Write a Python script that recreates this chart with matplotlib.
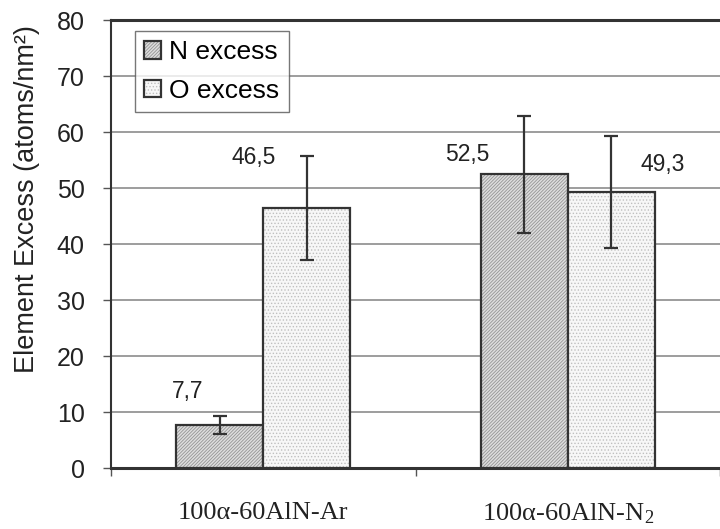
import matplotlib
matplotlib.use("Agg")
import matplotlib.pyplot as plt
import numpy as np

plt.rcParams['font.family'] = ['Liberation Sans', 'DejaVu Sans']
plt.rcParams['mathtext.fontset'] = 'custom'
plt.rcParams['mathtext.rm'] = 'Liberation Serif'
plt.rcParams['mathtext.it'] = 'Liberation Serif'
plt.rcParams['hatch.linewidth'] = 0.6

# Data
categories = ["100α-60AlN-Ar", r"100α-60AlN-N$_\mathregular{2}$"]
n_excess = [7.7, 52.5]
o_excess = [46.5, 49.3]
n_err = [1.6, 10.4]
o_err = [9.3, 10.0]
value_labels_n = ["7,7", "52,5"]
value_labels_o = ["46,5", "49,3"]
yticks = [0, 10, 20, 30, 40, 50, 60, 70, 80]

W, H = 720, 529
fig = plt.figure(figsize=(W / 100, H / 100), dpi=100)
ax = fig.add_axes([111 / W, 1 - 468.3 / H, (720 - 111) / W, (468.3 - 20.3) / H])

x = np.arange(len(categories))
bw = 0.285
edge = '#333333'

bars_n = ax.bar(x - bw / 2, n_excess, bw, facecolor='#dedede', edgecolor=edge,
                linewidth=1.6, hatch='//////////', zorder=3, label='N excess')
for b in bars_n:
    b._hatch_color = (0.58, 0.58, 0.58, 1)
bars_o = ax.bar(x + bw / 2, o_excess, bw, facecolor='#f7f7f7', edgecolor=edge,
                linewidth=1.6, hatch='.....', zorder=3, label='O excess')
for b in bars_o:
    b._hatch_color = (0.75, 0.75, 0.75, 1)

ax.errorbar(x - bw / 2, n_excess, yerr=n_err, fmt='none', ecolor=edge,
            elinewidth=1.6, capsize=5, capthick=1.6, zorder=4)
ax.errorbar(x + bw / 2, o_excess, yerr=o_err, fmt='none', ecolor=edge,
            elinewidth=1.6, capsize=5, capthick=1.6, zorder=4)

# Value labels (offsets in points from the top of each bar)
n_offsets = [(-23, 24), (-41, 14)]
o_offsets = [(-38, 36), (37, 20)]
for i in range(len(categories)):
    ax.annotate(value_labels_n[i], (x[i] - bw / 2, n_excess[i]), xytext=n_offsets[i],
                textcoords='offset points', ha='center', va='center',
                fontsize=16.5, color='#222222', zorder=5)
    ax.annotate(value_labels_o[i], (x[i] + bw / 2, o_excess[i]), xytext=o_offsets[i],
                textcoords='offset points', ha='center', va='center',
                fontsize=16.5, color='#222222', zorder=5)

ax.set_xlim(-0.5, -0.5 + (720 - 111) / 312)
ax.set_ylim(0, 80)
ax.set_yticks(yticks)
ax.set_yticklabels([str(t) for t in yticks], fontsize=18, color='#222222')
ax.yaxis.grid(True, color='#8c8c8c', linewidth=1.2, zorder=0)
ax.set_axisbelow(True)

ax.set_xticks(x)
ax.set_xticklabels(categories, fontsize=19, family=['Liberation Serif', 'DejaVu Serif'],
                   color='#222222')
ax.set_xticks([-0.5, 0.5, 1.5], minor=True)
ax.tick_params(axis='x', which='major', length=0, pad=24)
ax.tick_params(axis='x', which='minor', length=6, width=1, color='#555555')
ax.tick_params(axis='y', length=6, width=1, color='#555555', pad=13)

for s in ['left', 'bottom', 'top']:
    ax.spines[s].set_color(edge)
ax.spines['left'].set_linewidth(1.5)
ax.spines['bottom'].set_linewidth(2.2)
ax.spines['top'].set_linewidth(2.2)
ax.spines['right'].set_visible(False)

ax.set_ylabel('Element Excess (atoms/nm²)', fontsize=19.5, color='#222222')
ax.yaxis.set_label_coords(-0.116, (468.3 - 199) / 448)

leg = ax.legend(loc='upper left', bbox_to_anchor=((135 - 111) / 609, (468.3 - 31) / 448),
                fontsize=19, frameon=True, fancybox=False, edgecolor='#555555',
                handlelength=0.65, handleheight=0.65, handletextpad=0.3,
                borderpad=0.35, labelspacing=0.55, borderaxespad=0)
leg.get_frame().set_linewidth(1.0)
leg.set_zorder(6)

fig.savefig('out.png', dpi=100)
